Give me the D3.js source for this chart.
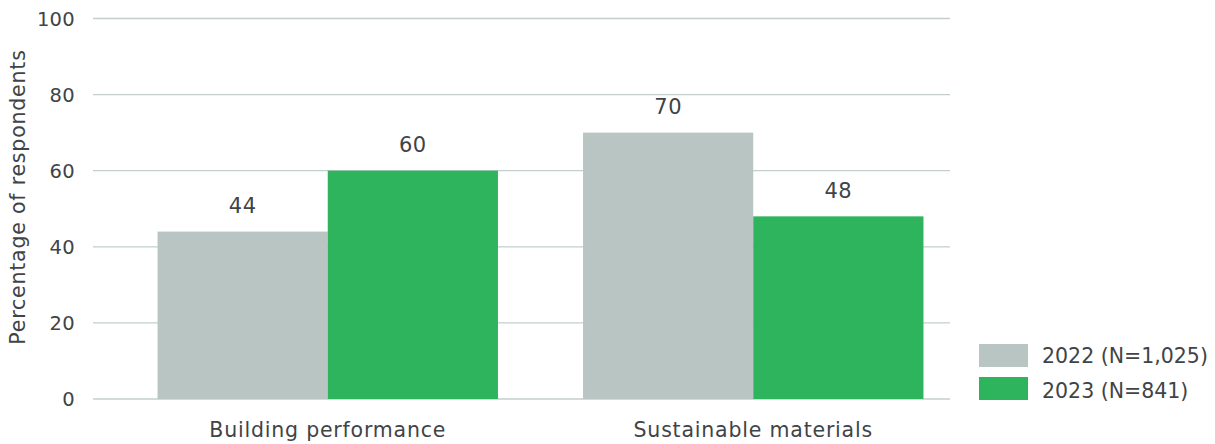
<!DOCTYPE html>
<html><head><meta charset="utf-8">
<script src="https://cdn.jsdelivr.net/npm/d3@7"></script>
<style>body{margin:0;background:#fff}text{font-family:"DejaVu Sans",sans-serif;fill:#3f4447}</style>
</head><body><svg id="c" width="1215" height="444"></svg>
<script>
const categories = ["Building performance", "Sustainable materials"];
const seriesNames = ["2022 (N=1,025)", "2023 (N=841)"];
const values2022 = [44, 70];
const values2023 = [60, 48];
const yTicks = [0, 20, 40, 60, 80, 100];
const colors = ["#b8c5c3", "#2db45d"];

const svg = d3.select("#c");
const y = d3.scaleLinear().domain([0, 100]).range([399, 18.5]);
const x0 = d3.scaleBand().domain(categories).range([115, 966]).paddingInner(0.2).paddingOuter(0.1);
const x1 = d3.scaleBand().domain(seriesNames).range([0, x0.bandwidth()]);
const series = [values2022, values2023];

// gridlines
svg.append("g").selectAll("line").data(yTicks).join("line")
  .attr("x1", 93).attr("x2", 950).attr("y1", d => y(d)).attr("y2", d => y(d))
  .attr("stroke", "#c3cfcd").attr("stroke-width", 1.3);
svg.append("g").selectAll("text").data(yTicks).join("text")
  .attr("x", 75).attr("y", d => y(d) + 7).attr("text-anchor", "end")
  .attr("font-size", 19.5).attr("letter-spacing", 0.3).text(d => d);

// y title
svg.append("text").attr("transform", "translate(25,197) rotate(-90)")
  .attr("text-anchor", "middle").attr("font-size", 20.5).attr("letter-spacing", 0.8)
  .text("Percentage of respondents");

// bars
const g = svg.append("g");
categories.forEach((c, i) => {
  series.forEach((s, j) => {
    g.append("rect").attr("x", x0(c) + x1(seriesNames[j])).attr("width", x1.bandwidth())
      .attr("y", y(s[i])).attr("height", y(0) - y(s[i])).attr("fill", colors[j]);
    g.append("text").attr("x", x0(c) + x1(seriesNames[j]) + x1.bandwidth() / 2)
      .attr("y", y(s[i]) - 18.5).attr("text-anchor", "middle").attr("font-size", 21)
      .attr("letter-spacing", 0.5).text(s[i]);
  });
  svg.append("text").attr("x", x0(c) + x0.bandwidth() / 2).attr("y", 437)
    .attr("text-anchor", "middle").attr("font-size", 20.5).attr("letter-spacing", 0.8).text(c);
});

// legend
seriesNames.forEach((n, j) => {
  const ly = [344, 377][j];
  svg.append("rect").attr("x", 979).attr("y", ly).attr("width", 49).attr("height", 23).attr("fill", colors[j]);
  svg.append("text").attr("x", 1042).attr("y", [363, 398][j]).attr("font-size", 20.5).text(n);
});
</script></body></html>
